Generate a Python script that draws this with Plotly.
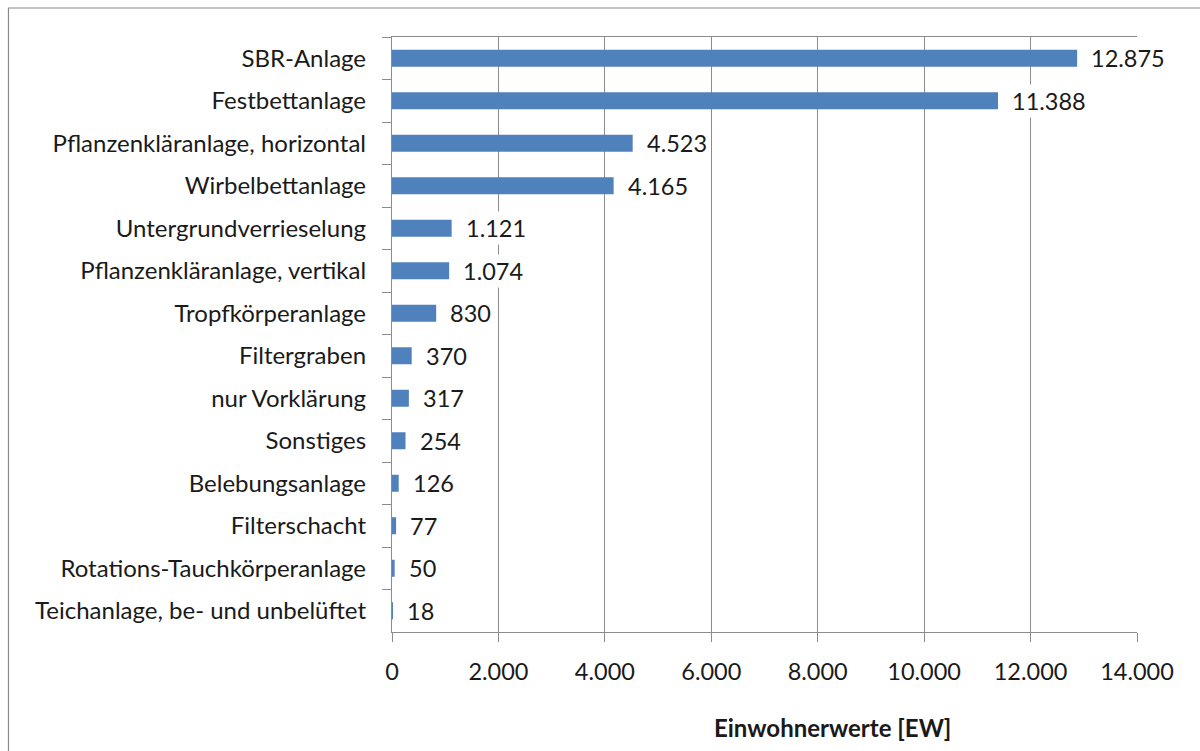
import plotly.graph_objects as go

# Kleinkläranlagen nach Verfahren, angeschlossene Einwohnerwerte
verfahren = [
    "SBR-Anlage",
    "Festbettanlage",
    "Pflanzenkläranlage, horizontal",
    "Wirbelbettanlage",
    "Untergrundverrieselung",
    "Pflanzenkläranlage, vertikal",
    "Tropfkörperanlage",
    "Filtergraben",
    "nur Vorklärung",
    "Sonstiges",
    "Belebungsanlage",
    "Filterschacht",
    "Rotations-Tauchkörperanlage",
    "Teichanlage, be- und unbelüftet",
]
einwohnerwerte = [12875, 11388, 4523, 4165, 1121, 1074, 830, 370, 317, 254, 126, 77, 50, 18]

x_ticks = [0, 2000, 4000, 6000, 8000, 10000, 12000, 14000]

FONT = "Lato"
GRID = "#8c8c8c"
BAR = "#4f81bd"
TXT = "#1a1a1a"


def de_number(v):
    return f"{v:,}".replace(",", ".")


fig = go.Figure(
    go.Bar(
        x=einwohnerwerte,
        y=verfahren,
        orientation="h",
        marker=dict(color=BAR, line=dict(width=0)),
        hoverinfo="x+y",
    )
)

# value labels on white boxes so they sit above the gridlines
for name, val in zip(verfahren, einwohnerwerte):
    fig.add_annotation(
        x=val, y=name, xref="x", yref="y",
        text=de_number(val), showarrow=False,
        xanchor="left", xshift=11,
        bgcolor="white", borderpad=2,
        font=dict(family=FONT, size=23.5, color=TXT),
    )

fig.add_annotation(
    text="<b>Einwohnerwerte [EW]</b>", showarrow=False,
    xref="paper", yref="paper", x=0.591, y=-0.161,
    xanchor="center", yanchor="middle",
    font=dict(family=FONT, size=24, color=TXT),
)

# outer chart frame
fig.add_shape(
    type="rect", xref="paper", yref="paper",
    x0=-0.5148, x1=1.3, y0=-0.5, y1=1.0487,
    line=dict(color="#8a8a8a", width=1.2), fillcolor="rgba(0,0,0,0)",
    layer="below",
)

fig.update_layout(
    width=1200, height=751,
    margin=dict(l=392, r=63, t=37, b=119),
    paper_bgcolor="white", plot_bgcolor="white",
    separators=",.",
    bargap=0.6,
    showlegend=False,
    font=dict(family=FONT, size=24, color=TXT),
    xaxis=dict(
        range=[0, 14000],
        tickvals=x_ticks,
        ticktext=[de_number(v) for v in x_ticks],
        showgrid=True, gridcolor=GRID, gridwidth=1.3,
        showline=True, linecolor=GRID, linewidth=1.3, mirror=True,
        ticks="outside", ticklen=9, tickcolor=GRID, tickwidth=1.3,
        ticklabelstandoff=10,
        zeroline=False,
        tickfont=dict(family=FONT, size=23.5, color=TXT),
    ),
    yaxis=dict(
        autorange="reversed",
        showgrid=False,
        showline=True, linecolor=GRID, linewidth=1.3,
        ticks="outside", ticklen=9, tickcolor=GRID, tickwidth=1.3,
        tickson="boundaries",
        ticklabelstandoff=20,
        tickfont=dict(family=FONT, size=24, color=TXT),
    ),
)

fig.write_html("out.html")
